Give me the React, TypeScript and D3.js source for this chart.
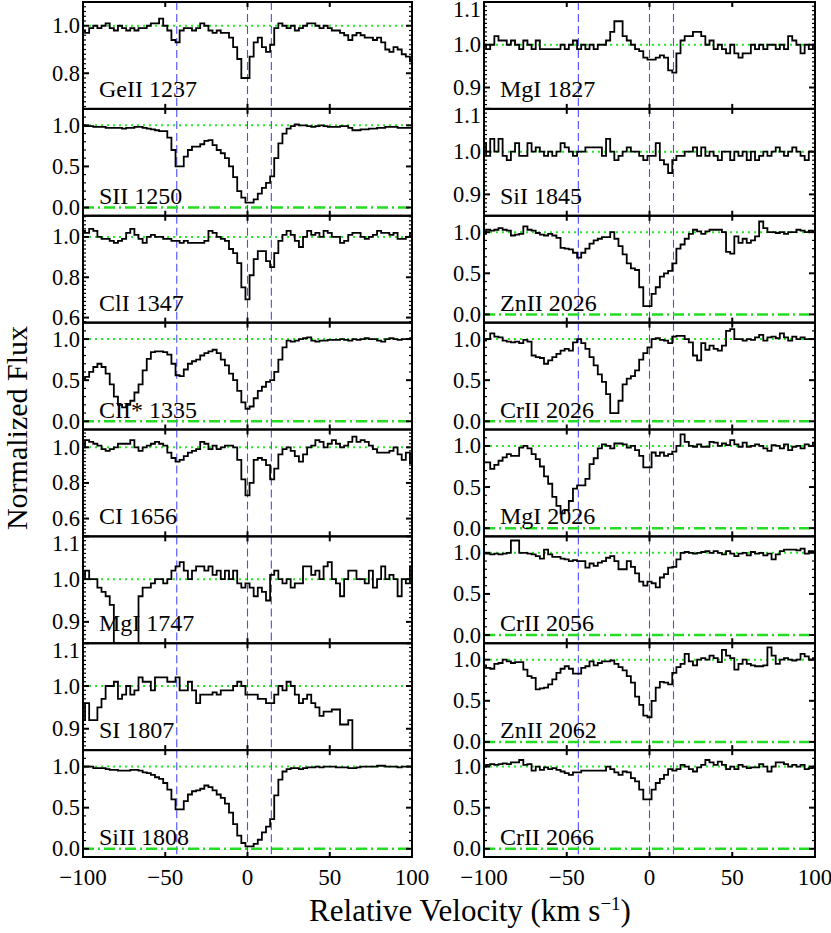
import React from 'react';
import * as d3 from 'd3';

// velocity grid of the binned spectra (km/s)
const velocity = d3.range(-100, 101, 2.5);
const components = [-43, 0, 14.5];
const xTicks = [-100, -50, 0, 50, 100];

// ---- left column ----
const geII1237 = [
  0.98, 0.97, 0.99, 1.0, 0.99, 1.0, 1.01, 0.99,
  0.98, 1.0, 0.99, 0.98, 0.99, 0.98, 0.99, 0.99,
  1.0, 1.01, 1.01, 1.03, 1.0, 0.98, 0.94, 0.93,
  0.98, 0.99, 0.99, 0.98, 0.99, 1.01, 1.0, 0.98,
  0.97, 0.98, 0.97, 0.97, 0.95, 0.91, 0.86, 0.78,
  0.78, 0.87, 0.93, 0.95, 0.91, 0.89, 0.92, 0.99,
  1.01, 1.0, 0.99, 1.0, 0.98, 0.99, 1.0, 1.01,
  1.01, 1.0, 0.99, 1.0, 0.99, 0.98, 0.98, 0.97,
  0.96, 0.94, 0.96, 0.97, 0.96, 0.95, 0.95, 0.94,
  0.95, 0.93, 0.9, 0.89, 0.91, 0.9, 0.88, 0.87,
  0.85,
];
const sII1250 = [
  1.0, 0.99, 0.99, 0.98, 0.98, 0.98, 0.97, 0.97,
  0.97, 0.97, 0.96, 0.97, 0.97, 0.98, 0.98, 0.97,
  0.96, 0.95, 0.94, 0.93, 0.93, 0.85, 0.7, 0.5,
  0.5, 0.62, 0.7, 0.74, 0.74, 0.77, 0.81, 0.82,
  0.76, 0.7, 0.66, 0.6, 0.5, 0.37, 0.2, 0.12,
  0.06, 0.06, 0.1, 0.17, 0.24, 0.3, 0.38, 0.6,
  0.78, 0.9, 0.96, 0.99, 1.01, 1.0, 1.0, 0.99,
  0.98, 0.99, 1.0, 0.99, 0.98, 0.98, 0.98, 0.99,
  0.99, 0.97, 0.94, 0.94, 0.95, 0.95, 0.96, 0.96,
  0.97, 0.97, 0.98, 0.98, 0.98, 0.97, 0.97, 0.97,
  0.97,
];
const clI1347 = [
  1.03, 1.02, 1.04, 1.03, 1.0, 0.99, 0.99, 0.98,
  0.97, 0.98, 0.99, 1.02, 1.04, 1.01, 0.99, 0.97,
  1.0, 1.01, 1.0, 1.0, 0.99, 0.99, 0.98, 0.98,
  0.97, 0.98, 0.97, 0.97, 0.97, 0.97, 0.98, 1.03,
  1.02, 1.0, 0.99, 0.98, 0.94, 0.92, 0.87, 0.75,
  0.69, 0.81, 0.89, 0.93, 0.93, 0.88, 0.85, 0.92,
  0.98, 1.01, 1.03, 1.01, 0.98, 0.95, 1.0, 1.03,
  1.01, 1.02, 1.0, 1.03, 1.02, 1.0, 1.0, 0.97,
  0.98, 1.01, 1.02, 1.02, 1.0, 0.99, 1.0, 1.01,
  1.03, 1.02, 1.02, 1.01, 1.02, 0.99, 0.99, 1.0,
  1.02,
];
const cIIs1335 = [
  0.52, 0.54, 0.6, 0.66, 0.7, 0.66, 0.58, 0.45,
  0.3, 0.2, 0.17, 0.2, 0.25, 0.35, 0.45, 0.62,
  0.76, 0.84, 0.85, 0.85, 0.84, 0.81, 0.7, 0.56,
  0.55, 0.63, 0.7, 0.73, 0.75, 0.8, 0.83, 0.85,
  0.87, 0.83, 0.75, 0.68, 0.58, 0.5, 0.37, 0.23,
  0.15, 0.18, 0.28, 0.37, 0.42, 0.48, 0.5, 0.6,
  0.75, 0.9, 0.98, 0.97, 0.98, 1.0, 1.01, 1.02,
  0.98, 0.97, 0.98, 0.98, 0.99, 0.99, 0.99, 1.0,
  0.99, 0.98, 1.0, 0.99, 1.0, 1.01, 1.0, 1.0,
  0.98, 0.97, 1.0, 1.01, 1.0, 0.99, 1.0, 1.0,
  1.01,
];
const cI1656 = [
  1.0, 1.04, 1.03, 1.02, 1.01, 0.99, 0.98, 0.99,
  1.0, 1.02, 1.02, 1.02, 1.04, 1.0, 0.98, 1.0,
  1.01, 1.02, 1.03, 1.02, 1.01, 0.97, 0.94, 0.92,
  0.93, 0.95, 0.97, 0.98, 0.99, 1.03, 1.02, 0.99,
  1.01, 0.99, 1.0, 1.01, 1.01, 1.0, 0.93, 0.82,
  0.73, 0.8, 0.93, 0.94, 0.93, 0.9, 0.82, 0.88,
  0.96, 0.99, 1.0, 0.98, 0.95, 0.92, 0.96, 1.0,
  1.01, 1.04, 1.03, 1.0, 1.02, 1.04, 1.02, 1.0,
  1.01, 1.03, 1.06, 1.03, 1.04, 1.03, 1.01, 0.99,
  0.97, 0.97, 0.97, 0.98, 1.0, 0.96, 0.93, 0.97,
  0.91,
];
const mgI1747 = [
  1.0, 1.02, 1.0, 1.0, 0.98, 0.97, 0.96, 0.94,
  0.8, 0.8, 0.8, 0.8, 0.8, 0.8, 0.96, 0.98,
  0.98, 0.99, 1.0, 1.0, 0.99, 1.0, 1.02, 1.03,
  1.04, 1.02, 1.0, 1.02, 1.03, 1.03, 1.02, 1.03,
  1.01, 1.02, 1.0, 1.02, 1.0, 1.02, 0.99, 0.98,
  0.99, 0.98, 0.96, 0.98, 0.97, 0.95, 1.01, 1.02,
  1.0, 0.99, 1.0, 0.98, 0.99, 0.99, 1.03, 1.03,
  1.01, 1.02, 1.0, 1.03, 1.04, 1.0, 0.99, 0.96,
  1.0, 1.02, 1.02, 1.0, 1.0, 0.99, 1.02, 0.98,
  1.0, 1.03, 1.0, 1.01, 1.0, 0.96, 1.0, 0.99,
  1.03,
];
const sI1807 = [
  0.92, 0.96, 0.92, 0.92, 0.95, 0.97, 1.0, 1.0,
  1.01, 0.97, 0.98, 1.0, 0.98, 0.99, 1.02, 1.01,
  1.01, 0.99, 1.02, 1.02, 1.02, 1.01, 1.01, 1.02,
  0.99, 0.99, 1.01, 0.99, 0.96, 0.98, 0.98, 0.98,
  0.985, 0.98, 0.99, 0.99, 0.99, 1.0, 1.01, 1.0,
  0.98, 0.98, 0.98, 0.97, 0.97, 0.96, 0.96, 0.98,
  1.0, 0.99, 1.01, 1.0, 0.98, 0.96, 0.97, 0.98,
  0.96, 0.95, 0.93, 0.94, 0.94, 0.945, 0.945, 0.91,
  0.91, 0.92, 0.8, 0.8, 0.8, 0.8, 0.8, 0.8,
  0.8, 0.8, 0.8, 0.8, 0.8, 0.8, 0.8, 0.8,
  0.8,
];
const siII1808 = [
  1.0, 1.0, 1.0, 0.98, 0.98, 0.98, 0.97, 0.96,
  0.96, 0.95, 0.95, 0.95, 0.96, 0.96, 0.95, 0.93,
  0.92, 0.9, 0.87, 0.85, 0.8, 0.72, 0.6, 0.48,
  0.48, 0.58, 0.66, 0.7, 0.71, 0.73, 0.77, 0.75,
  0.71, 0.66, 0.62, 0.55, 0.44, 0.3, 0.16, 0.07,
  0.03, 0.03, 0.06, 0.11, 0.2, 0.27, 0.36, 0.65,
  0.84, 0.94, 0.97, 0.98, 0.98, 0.97, 0.98, 0.99,
  0.99, 1.0, 0.99, 1.0, 1.0, 1.0, 0.99, 0.99,
  0.99, 0.98, 0.98, 0.99, 1.0, 1.0, 1.0, 1.0,
  1.01, 1.01, 1.0, 1.0, 1.0, 0.99, 1.0, 1.0,
  1.0,
];

// ---- right column ----
const mgI1827 = [
  1.0, 0.99, 1.0, 1.02, 1.01, 1.01, 1.0, 1.01,
  1.0, 0.99, 1.01, 1.0, 0.99, 1.01, 0.99, 0.99,
  0.99, 0.99, 0.99, 1.0, 0.99, 1.0, 1.01, 0.99,
  1.0, 0.99, 1.0, 0.99, 1.0, 1.0, 1.01, 1.03,
  1.055, 1.055, 1.02, 1.01, 1.0, 0.99, 0.985, 0.97,
  0.965, 0.965, 0.97, 0.975, 0.97, 0.94, 0.935, 0.98,
  1.01, 1.02, 1.02, 1.03, 1.03, 1.02, 1.0, 1.01,
  0.99, 1.0, 0.99, 0.98, 1.0, 0.98, 0.97, 0.98,
  0.98, 1.0, 0.99, 1.0, 0.99, 1.0, 1.0, 0.99,
  1.0, 0.99, 1.02, 1.01, 1.0, 0.98, 1.0, 0.99,
  1.0,
];
const siI1845 = [
  1.02, 0.99, 1.03, 1.0, 1.03, 0.99, 0.98, 1.0,
  1.02, 0.99, 0.99, 1.02, 1.0, 1.01, 1.0, 0.99,
  1.0, 0.99, 1.0, 1.02, 1.01, 1.0, 0.99, 1.0,
  1.0, 1.01, 1.01, 1.01, 1.01, 0.99, 1.03, 1.0,
  0.98, 0.99, 1.0, 1.01, 1.0, 1.0, 0.99, 0.98,
  0.99, 0.99, 1.02, 0.98, 0.97, 0.95, 0.98, 0.99,
  0.99, 1.0, 1.0, 1.01, 0.99, 1.01, 0.99, 1.0,
  0.99, 0.98, 1.0, 1.0, 0.98, 1.0, 0.99, 1.0,
  0.98, 1.0, 0.98, 0.99, 1.0, 0.99, 1.0, 1.01,
  1.0, 0.99, 1.0, 1.01, 1.0, 0.99, 0.98, 1.0,
  1.0,
];
const znII2026 = [
  0.98, 1.03, 1.02, 1.03, 1.05, 1.03, 1.02, 0.96,
  0.97, 0.98, 1.07, 1.03, 1.02, 0.99, 0.97, 0.96,
  0.98, 0.96, 0.93, 0.81, 0.8, 0.79, 0.75, 0.69,
  0.75, 0.8, 0.86, 0.9, 0.92, 0.94, 0.94, 1.0,
  0.92, 0.83, 0.73, 0.62, 0.56, 0.54, 0.33, 0.1,
  0.1, 0.25, 0.33, 0.46, 0.5, 0.53, 0.62, 0.8,
  0.85, 0.92, 0.98, 1.03, 1.01, 0.98, 1.01, 1.03,
  1.03, 1.03, 1.0, 0.76, 0.74, 0.95, 0.87, 0.92,
  0.87, 0.9, 0.95, 1.13, 1.05, 1.0, 1.0, 0.99,
  1.0, 0.98, 1.0, 1.0, 1.03, 1.02, 1.0, 1.02,
  1.0,
];
const crII2026 = [
  0.98, 1.0, 1.07, 1.03, 1.02, 0.98, 0.97, 0.96,
  0.97, 0.95, 0.99, 0.97, 0.8, 0.78, 0.77, 0.7,
  0.74, 0.78, 0.82, 0.86, 0.88, 0.86, 0.96, 1.0,
  0.95, 0.88, 0.78, 0.68, 0.57, 0.48, 0.33, 0.1,
  0.1, 0.25, 0.45, 0.52, 0.55, 0.62, 0.75, 0.83,
  0.9, 1.0, 1.01, 0.99, 0.98, 0.95, 1.03, 1.04,
  1.04, 1.0, 0.96, 0.8, 0.74, 0.95, 0.87, 0.92,
  0.88, 0.86, 0.92, 1.1, 1.12, 1.0, 1.0, 0.98,
  1.0, 0.99, 1.02, 1.05, 0.98, 1.02, 1.03, 1.01,
  1.07, 1.02, 0.98, 1.03, 1.0, 1.02, 1.0, 1.0,
  1.0,
];
const mgI2026 = [
  0.8, 0.8, 0.72, 0.77, 0.82, 0.86, 0.9, 0.88,
  0.88, 0.98, 1.0, 0.97, 0.9, 0.84, 0.75, 0.63,
  0.54, 0.38, 0.27, 0.18, 0.22, 0.33, 0.48, 0.52,
  0.52, 0.6, 0.78, 0.85, 0.97, 1.02, 1.0, 0.97,
  1.03, 1.03, 1.02, 0.98, 1.0, 0.95, 0.88, 0.74,
  0.74, 0.92, 0.88, 0.92, 0.88, 0.9, 0.93, 1.0,
  1.14, 1.05, 1.0, 0.99, 1.02, 0.99, 0.99, 1.05,
  1.04, 1.0, 1.03, 1.01, 1.07, 1.02, 0.99, 1.04,
  0.99, 1.0, 1.02, 1.0, 0.97, 0.94, 1.01, 1.0,
  0.97, 1.02, 0.95, 0.99, 1.0, 0.97, 1.02, 1.0,
  1.04,
];
const crII2056 = [
  1.0, 0.99, 0.98, 0.99, 0.98, 0.99, 1.0, 1.15,
  1.15, 1.0, 1.0, 0.99, 0.98, 0.96, 0.93, 1.04,
  0.98, 0.95, 0.95, 0.93, 0.92, 0.9, 0.91, 0.9,
  0.9, 0.82, 0.87, 0.84, 0.88, 0.9, 0.94, 0.96,
  0.9, 0.8, 0.8, 0.9, 0.83, 0.75, 0.65, 0.6,
  0.65, 0.63, 0.58, 0.7, 0.74, 0.82, 0.83, 0.92,
  1.0, 1.01, 1.0, 0.99, 1.0, 1.01, 1.02, 1.0,
  1.02, 1.0, 0.98, 1.02, 0.99, 0.96, 0.99, 1.0,
  0.97, 1.01, 0.99, 1.0, 0.97, 0.99, 0.92, 0.98,
  1.02, 1.04, 1.04, 1.04, 1.03, 1.05, 0.99, 1.02,
  1.01,
];
const znII2062 = [
  0.93, 0.9, 0.89, 0.95, 0.96, 1.0, 0.98, 0.96,
  0.97, 0.97, 0.88, 0.8, 0.78, 0.64, 0.65, 0.66,
  0.7, 0.76, 0.84, 0.89, 0.92, 0.89, 0.83, 0.83,
  0.9, 0.92, 0.98, 0.93, 0.96, 0.98, 0.98, 0.99,
  0.95, 0.91, 0.87, 0.8, 0.72, 0.55, 0.45, 0.32,
  0.3, 0.5, 0.66, 0.73, 0.72, 0.7, 0.84, 0.91,
  0.95, 1.07, 0.98, 0.93, 1.0, 1.02, 1.0, 1.05,
  1.02, 0.97, 1.12, 1.05, 1.02, 0.88, 0.95, 1.0,
  0.95, 0.93, 0.92, 0.92, 0.93, 1.15, 1.05, 0.95,
  1.0, 1.02, 1.0, 0.99, 1.0, 1.07, 1.04, 1.0,
  1.02,
];
const crII2066 = [
  1.0, 1.02, 1.03, 1.02, 1.03, 1.04, 1.03, 1.05,
  1.05, 1.08, 1.02, 1.03, 0.95, 1.0, 0.96, 0.99,
  0.97, 0.98, 0.96, 0.94, 0.92, 0.9, 0.93, 0.93,
  0.95, 0.95, 0.95, 0.95, 0.95, 0.95, 1.0, 0.97,
  0.93, 0.9, 0.94, 0.93, 0.86, 0.82, 0.72, 0.6,
  0.6, 0.72, 0.8, 0.85, 0.9, 0.97, 0.95, 0.97,
  1.02, 1.0, 0.97, 0.94, 0.99, 1.02, 1.08, 1.05,
  1.02, 1.06, 1.02, 0.97, 1.0, 0.97, 1.02, 1.0,
  0.98, 0.99, 0.99, 1.03, 1.0, 0.94, 1.0, 1.05,
  1.05, 1.03, 1.0, 1.02, 1.0, 1.02, 0.97, 0.98,
  1.0,
];

const leftLabels = ['GeII 1237', 'SII 1250', 'ClI 1347', 'CII* 1335', 'CI 1656', 'MgI 1747', 'SI 1807', 'SiII 1808'];
const leftFlux = [geII1237, sII1250, clI1347, cIIs1335, cI1656, mgI1747, sI1807, siII1808];
const leftRanges = [[0.65, 1.1], [-0.1, 1.2], [0.575, 1.105], [-0.1, 1.2], [0.5, 1.1], [0.85, 1.1], [0.85, 1.1], [-0.1, 1.2]];
const leftMajor = [[0.8, 1.0], [0, 0.5, 1.0], [0.6, 0.8, 1.0], [0, 0.5, 1.0], [0.6, 0.8, 1.0], [0.9, 1.0, 1.1], [0.9, 1.0, 1.1], [0, 0.5, 1.0]];

const rightLabels = ['MgI 1827', 'SiI 1845', 'ZnII 2026', 'CrII 2026', 'MgI 2026', 'CrII 2056', 'ZnII 2062', 'CrII 2066'];
const rightFlux = [mgI1827, siI1845, znII2026, crII2026, mgI2026, crII2056, znII2062, crII2066];
const rightRanges = [[0.85, 1.1], [0.85, 1.1], [-0.1, 1.2], [-0.1, 1.2], [-0.1, 1.2], [-0.1, 1.2], [-0.1, 1.2], [-0.1, 1.2]];
const rightMajor = [[0.9, 1.0, 1.1], [0.9, 1.0, 1.1], [0, 0.5, 1.0], [0, 0.5, 1.0], [0, 0.5, 1.0], [0, 0.5, 1.0], [0, 0.5, 1.0], [0, 0.5, 1.0]];

const FONT = '"Liberation Serif", "Times New Roman", Times, serif';
const columns = [
  { x0: 83, x1: 412, labels: leftLabels, flux: leftFlux, ranges: leftRanges, major: leftMajor },
  { x0: 484, x1: 815, labels: rightLabels, flux: rightFlux, ranges: rightRanges, major: rightMajor },
];
const plotTop = 2;
const plotBottom = 857;
const rowH = (plotBottom - plotTop) / 8;

function Panel({ id, x0, x1, y0, y1, domain, flux, label, major, showX }) {
  const x = d3.scaleLinear().domain([-100, 100]).range([x0, x1]);
  const y = d3.scaleLinear().domain(domain).range([y1, y0]);
  const line = d3.line<number>()
    .x((_, i) => x(velocity[i]))
    .y(d => y(d))
    .curve(d3.curveStep);

  // minor tick spacing: 0.5 -> 0.1, 0.2 -> 0.02, 0.1 -> 0.01
  const step = major[1] - major[0];
  const minorStep = step > 0.3 ? step / 5 : step / 10;
  const minor = d3.range(Math.ceil(domain[0] / minorStep - 1e-6), Math.floor(domain[1] / minorStep + 1e-6) + 1)
    .map(k => k * minorStep)
    .filter(v => !major.some(m => Math.abs(m - v) < 1e-6));

  return (
    <g>
      <defs>
        <clipPath id={`clip-${id}`}>
          <rect x={x0} y={y0} width={x1 - x0} height={y1 - y0} />
        </clipPath>
      </defs>
      <g clipPath={`url(#clip-${id})`}>
        {components.map(c => (
          <line key={c} x1={x(c)} x2={x(c)} y1={y0} y2={y1}
            stroke="#4a4aff" strokeWidth={1.1} strokeDasharray="8,4" />
        ))}
        <line x1={x0} x2={x1} y1={y(1)} y2={y(1)} stroke="#22ee22" strokeWidth={2} strokeDasharray="2,4" />
        {domain[0] < 0 && (
          <line x1={x0} x2={x1} y1={y(0)} y2={y(0)} stroke="#22dd22" strokeWidth={2.5} strokeDasharray="11,4,2,4" />
        )}
        <path d={line(flux) || ''} fill="none" stroke="#000" strokeWidth={1.8} strokeLinejoin="miter" />
      </g>
      <text x={x0 + 16} y={y1 - 12} fontFamily={FONT} fontSize={24} fill="#000">{label}</text>
      <rect x={x0} y={y0} width={x1 - x0} height={y1 - y0} fill="none" stroke="#000" strokeWidth={2} />
      {xTicks.slice(1, -1).map(t => (
        <g key={t}>
          <line x1={x(t)} x2={x(t)} y1={y0} y2={y0 + 5} stroke="#000" strokeWidth={2} />
          <line x1={x(t)} x2={x(t)} y1={y1} y2={y1 - 5} stroke="#000" strokeWidth={2} />
        </g>
      ))}
      {major.map(t => (
        <g key={t}>
          <line x1={x0} x2={x0 + 6} y1={y(t)} y2={y(t)} stroke="#000" strokeWidth={2} />
          <line x1={x1} x2={x1 - 6} y1={y(t)} y2={y(t)} stroke="#000" strokeWidth={2} />
          <text x={x0 - 3} y={Math.max(y(t), y0 + 7)} textAnchor="end" dominantBaseline="central"
            fontFamily={FONT} fontSize={22.5} fill="#000">{d3.format('.1f')(t)}</text>
        </g>
      ))}
      {minor.map(t => (
        <g key={t}>
          <line x1={x0} x2={x0 + 3} y1={y(t)} y2={y(t)} stroke="#000" strokeWidth={1.2} />
          <line x1={x1} x2={x1 - 3} y1={y(t)} y2={y(t)} stroke="#000" strokeWidth={1.2} />
        </g>
      ))}
      {showX && xTicks.map(t => (
        <text key={t} x={x(t)} y={885} textAnchor="middle" fontFamily={FONT} fontSize={23} fill="#000">
          {t < 0 ? `\u2212${Math.abs(t)}` : t}
        </text>
      ))}
    </g>
  );
}

export default function App() {
  return (
    <svg width={831} height={933} style={{ position: 'absolute', left: 0, top: 0, background: '#fff' }}>
      <rect width={831} height={933} fill="#fff" />
      {columns.map((col, ci) =>
        col.labels.map((label, ri) => (
          <Panel
            key={`${ci}-${ri}`}
            id={`${ci}-${ri}`}
            x0={col.x0}
            x1={col.x1}
            y0={plotTop + ri * rowH}
            y1={plotTop + (ri + 1) * rowH}
            domain={col.ranges[ri]}
            flux={col.flux[ri]}
            label={label}
            major={col.major[ri]}
            showX={ri === 7}
          />
        ))
      )}
      <text transform="translate(27,428) rotate(-90)" textAnchor="middle" fontFamily={FONT} fontSize={30} fill="#000">
        Normalized Flux
      </text>
      <text x={470} y={921} textAnchor="middle" fontFamily={FONT} fontSize={31} fill="#000">
        Relative Velocity  (km s<tspan dy={-11} fontSize={19}>{'\u22121'}</tspan><tspan dy={11}>)</tspan>
      </text>
    </svg>
  );
}
